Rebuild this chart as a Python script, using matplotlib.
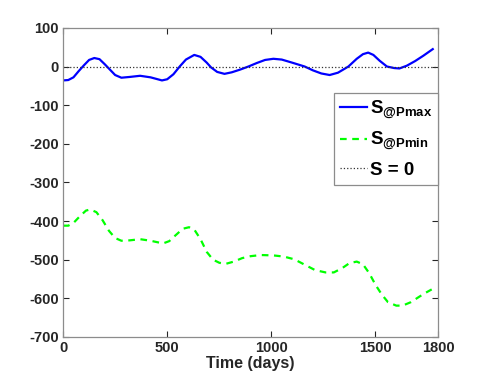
import matplotlib
matplotlib.use('Agg')
import matplotlib.pyplot as plt
import numpy as np

plt.rcParams['font.family'] = ['Liberation Sans', 'DejaVu Sans']
plt.rcParams['font.weight'] = 'bold'
plt.rcParams['axes.unicode_minus'] = False
plt.rcParams['mathtext.fontset'] = 'custom'
plt.rcParams['mathtext.rm'] = 'Liberation Sans:bold'
plt.rcParams['mathtext.bf'] = 'Liberation Sans:bold'
plt.rcParams['mathtext.it'] = 'Liberation Sans:bold'

# S at Pmax (blue)
days_max = [0, 25, 50, 75, 100, 125, 150, 175, 200, 225, 250, 280, 320, 370, 420,
            475, 500, 530, 560, 590, 630, 660, 690, 710, 740, 775, 810, 850, 890,
            930, 970, 1010, 1050, 1100, 1160, 1200, 1240, 1280, 1320, 1370, 1410,
            1440, 1465, 1490, 1520, 1555, 1590, 1615, 1650, 1690, 1730, 1775]
s_max = [-36, -35, -28, -12, 3, 17, 22, 19, 6, -8, -22, -29, -27, -24, -28,
         -36, -33, -20, 0, 18, 30, 25, 10, -2, -14, -19, -15, -8, 0,
         9, 17, 20, 18, 10, 0, -10, -18, -22, -16, 0, 20,
         32, 36, 30, 15, 0, -4, -5, 2, 14, 28, 45]

# S at Pmin (green dashed)
days_min = [0, 25, 50, 80, 110, 130, 160, 190, 220, 250, 280, 320, 370, 420, 480,
            510, 540, 575, 605, 630, 660, 690, 720, 750, 780, 820, 860, 900, 950,
            1010, 1060, 1110, 1160, 1210, 1260, 1300, 1340, 1375, 1410, 1440, 1470,
            1500, 1530, 1560, 1600, 1630, 1670, 1710, 1740, 1770]
s_min = [-412, -412, -405, -388, -373, -370, -377, -398, -425, -444, -451, -450, -447, -451, -458,
         -452, -437, -420, -416, -422, -447, -480, -500, -508, -511, -505, -496, -491, -488,
         -489, -492, -499, -513, -527, -533, -533, -522, -509, -505, -512, -535,
         -565, -590, -610, -619, -619, -610, -596, -586, -577]

xticks = [0, 500, 1000, 1500, 1800]
yticks = [100, 0, -100, -200, -300, -400, -500, -600, -700]

fig = plt.figure(figsize=(4.85, 3.82), dpi=100)
ax = fig.add_axes([0.130, 0.118, 0.773, 0.809])

ax.plot(days_max, s_max, '-', color='#0000ff', lw=1.6, label=r'S$_{@Pmax}$')
ax.plot(days_min, s_min, '--', color='#00ff00', lw=1.6, dashes=(3, 2.5), label=r'S$_{@Pmin}$')
ax.axhline(0, color='#333333', ls=':', lw=0.9, label='S = 0')

ax.set_xlim(0, 1800)
ax.set_ylim(-700, 100)
ax.set_xticks(xticks)
ax.set_yticks(yticks)
ax.tick_params(direction='in', top=True, right=True, length=4, width=0.8,
               labelsize=10.5, colors='#262626', labelcolor='#262626', pad=3)
for sp in ax.spines.values():
    sp.set_color('#8c8c8c')
    sp.set_linewidth(0.9)
ax.set_xlabel('Time (days)', fontsize=11.5, fontweight='bold', color='#262626', labelpad=1)

leg = ax.legend(loc='upper right', bbox_to_anchor=(1.0, 0.79), borderaxespad=0,
                fontsize=13.5, handlelength=1.45, handletextpad=0.15, labelspacing=0.5,
                borderpad=0.3, fancybox=False, framealpha=1)
leg.get_frame().set_edgecolor('#8c8c8c')
leg.get_frame().set_linewidth(0.9)

fig.savefig('out.png', dpi=100)
